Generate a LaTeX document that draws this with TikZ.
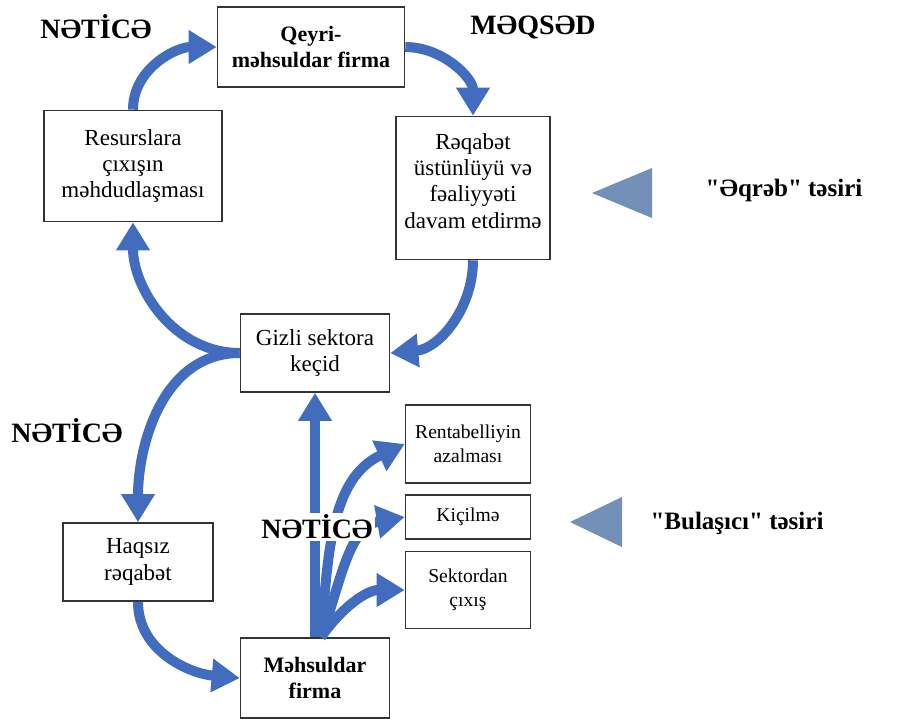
\documentclass[tikz,border=0pt]{standalone}
\usepackage{fontspec}
\setmainfont{Liberation Serif}
\newfontfamily\plainserif{Liberation Serif}
\usetikzlibrary{arrows.meta}
\definecolor{arrblue}{RGB}{66,108,190}
\definecolor{triblue}{RGB}{115,144,184}

\begin{document}
\begin{tikzpicture}[x=0.5pt, y=-0.5pt]
	\tikzstyle{box} = [ draw=black!80, line width=0.8pt, rectangle, align=center, inner sep=2pt, font={\fontsize{11.5}{13.2}\selectfont}];
	\tikzstyle{firm} = [ box, font={\fontsize{11}{13}\selectfont\bfseries}];
	\tikzstyle{side} = [ box, minimum width=62.5pt, node distance=36.5pt, font={\fontsize{9.8}{12}\selectfont}];
	\tikzstyle{result} = [font={\fontsize{14}{16}\selectfont\bfseries}];
	\tikzstyle{effect} = [font={\plainserif\fontsize{12.5}{15}\selectfont\bfseries}];
	\tikzstyle{flow} = [ ->, >={Triangle[length=14pt,width=16pt]}, line width=5pt, arrblue];

	\useasboundingbox (0,0) rectangle (923,719);

	\node[firm, minimum width=93.5pt, minimum height=40pt] (qm) at (311,47) {Qeyri-\\məhsuldar firma};
	\node[box, minimum width=89pt, minimum height=55.5pt] (rs) at (133,166) {Resurslara\\çıxışın\\məhdudlaşması};
	\node[box, minimum width=77pt, minimum height=71.5pt] (rq) at (473,188) {Rəqabət\\üstünlüyü və\\fəaliyyəti\\davam etdirmə\\[-6pt] \mbox{}};
	\node[box, minimum width=74.5pt, minimum height=39pt] (gz) at (315,353) {Gizli sektora\\keçid};
	\node[box, minimum width=75pt, minimum height=39pt] (hq) at (138,562) {Haqsız\\rəqabət};
	\node[firm, minimum width=74.5pt, minimum height=40pt] (mh) at (315,678) {Məhsuldar\\firma};
	\node[side, minimum height=39pt] (rt) at (468,444) {Rentabelliyin\\azalması};
	\node[side, minimum height=22pt, below of=rt] (kc) {Kiçilmə};
	\node[side, minimum height=38.5pt, below of=kc] (sk) {Sektordan\\çıxış};

	\draw[flow] (qm.east) to[out=0, in=90] (rq.north);
	\draw[flow] (rq.south) to[out=-90, in=5] (gz.east);
	\draw[flow] (gz.west) to[out=180, in=-90] (rs.south);
	\draw[flow] (rs.north) to[out=90, in=180] (qm.west);
	\draw[flow] (gz.west) to[out=180, in=90] (hq.north);
	\draw[flow] (hq.south) to[out=-90, in=175] (mh.west);
	\draw[flow] (mh.north) -- (gz.south);

	\coordinate (fork) at ([xshift=3pt]mh.north);
	\draw[flow] (fork) to[out=85, in=205] (rt.west);
	\draw[flow] (fork) to[out=70, in=190] (kc.west);
	\draw[flow] (fork) to[out=55, in=180] (sk.west);

	\foreach \tx/\ty/\tr in {592/193/652, 570/522/622}
		\fill[triblue] (\tx,\ty) -- (\tr,\ty-25) -- (\tr,\ty+25) -- cycle;

	\node[result] (n1) at (96,27) {NƏTİCƏ};
	\node[result] (mq) at (533,27) {MƏQSƏD};
	\node[result] (n2) at (67,431) {NƏTİCƏ};
	\node[result, fill=white, inner sep=1pt] (n3) at (317,527) {NƏTİCƏ};
	\node[effect] (eq) at (784,190) {"Əqrəb" təsiri};
	\node[effect] (bl) at (737,523) {"Bulaşıcı" təsiri};
\end{tikzpicture}
\end{document}
